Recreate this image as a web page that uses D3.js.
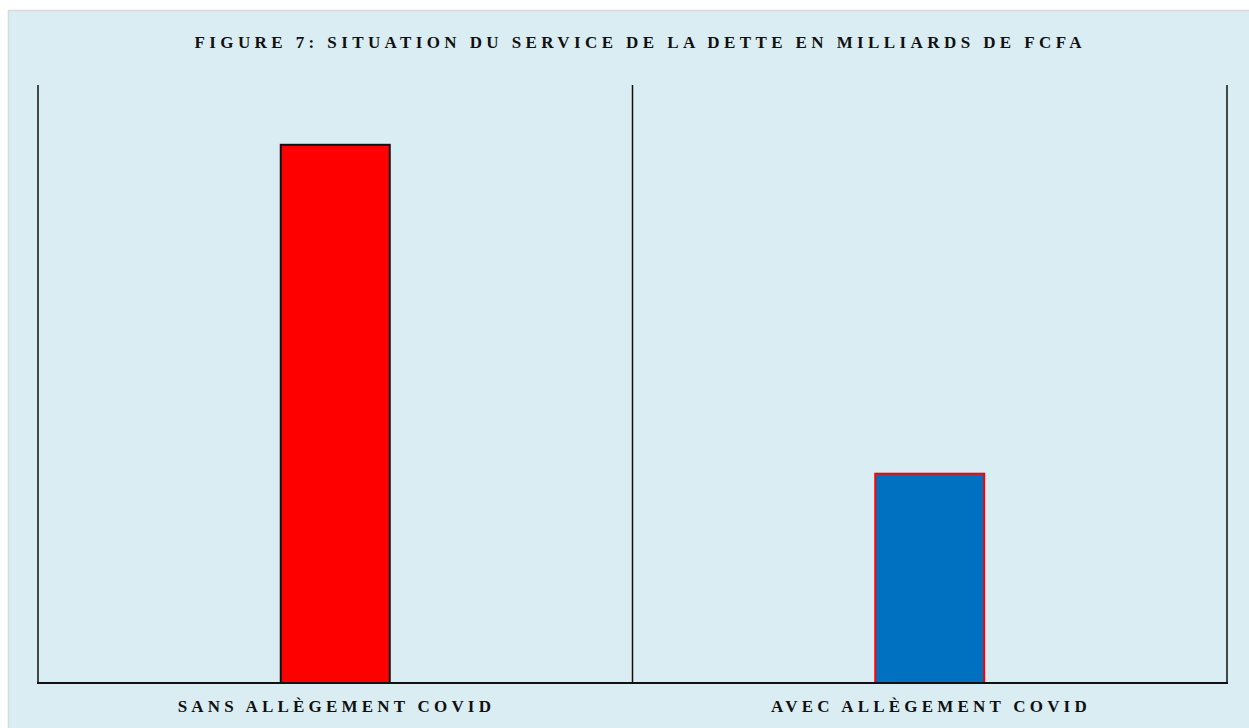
<!DOCTYPE html>
<html lang="fr">
<head>
<meta charset="UTF-8">
<title>Figure 7</title>
<script src="https://d3js.org/d3.v7.min.js"></script>
<style>
    body { margin: 0; padding: 0; background: #ffffff; }
    svg { display: block; font-family: 'Liberation Serif', 'Times New Roman', serif; }
    .title { font-size: 17px; font-weight: bold; letter-spacing: 4.4px; fill: #111; }
    .cat-label { font-size: 17px; font-weight: bold; letter-spacing: 4.2px; fill: #111; }
</style>
</head>
<body>
<svg width="1249" height="728"></svg>
<script>
    const categories = ["SANS ALLÈGEMENT COVID", "AVEC ALLÈGEMENT COVID"];
    const values = [126, 49];
    const yMax = 140;
    const fills = ["#ff0000", "#0070c0"];
    const strokes = ["#111111", "#ff0000"];

    const svg = d3.select("svg");
    const width = +svg.attr("width");
    const height = +svg.attr("height");

    // chart area background
    svg.append("rect")
       .attr("x", 8.5).attr("y", 10.5)
       .attr("width", width).attr("height", height)
       .attr("fill", "#daedf3")
       .attr("stroke", "#d9d9d9")
       .attr("stroke-width", 1.5);

    const plotLeft = 38, plotRight = 1227, plotTop = 85, plotBottom = 683;

    const x = d3.scaleBand()
                .domain(categories)
                .range([plotLeft, plotRight])
                .paddingInner(0)
                .paddingOuter(0);

    const barW = 109;

    const y = d3.scaleLinear()
                .domain([0, yMax])
                .range([plotBottom, plotTop]);

    svg.append("text")
       .attr("class", "title")
       .attr("x", 638 + 2.2)
       .attr("y", 48)
       .attr("text-anchor", "middle")
       .text("FIGURE 7: SITUATION DU SERVICE DE LA DETTE EN MILLIARDS DE FCFA");

    // vertical separators
    const seps = [plotLeft, x(categories[1]), plotRight];
    svg.selectAll(".sep")
       .data(seps)
       .enter()
       .append("line")
       .attr("class", "sep")
       .attr("x1", d => d).attr("x2", d => d)
       .attr("y1", plotTop).attr("y2", plotBottom)
       .attr("stroke", "#111")
       .attr("stroke-width", 1.5);

    svg.selectAll(".bar")
       .data(values)
       .enter()
       .append("rect")
       .attr("class", "bar")
       .attr("x", (d, i) => x(categories[i]) + x.bandwidth() / 2 - barW / 2)
       .attr("y", d => y(d))
       .attr("width", barW)
       .attr("height", d => y(0) - y(d))
       .attr("fill", (d, i) => fills[i])
       .attr("stroke", (d, i) => strokes[i])
       .attr("stroke-width", 2);

    // baseline
    svg.append("line")
       .attr("x1", plotLeft - 1).attr("x2", plotRight + 1)
       .attr("y1", plotBottom).attr("y2", plotBottom)
       .attr("stroke", "#111")
       .attr("stroke-width", 2);

    svg.selectAll(".cat-label")
       .data(categories)
       .enter()
       .append("text")
       .attr("class", "cat-label")
       .attr("x", d => x(d) + x.bandwidth() / 2 + 1.2)
       .attr("y", 712)
       .attr("text-anchor", "middle")
       .text(d => d);
</script>
</body>
</html>
